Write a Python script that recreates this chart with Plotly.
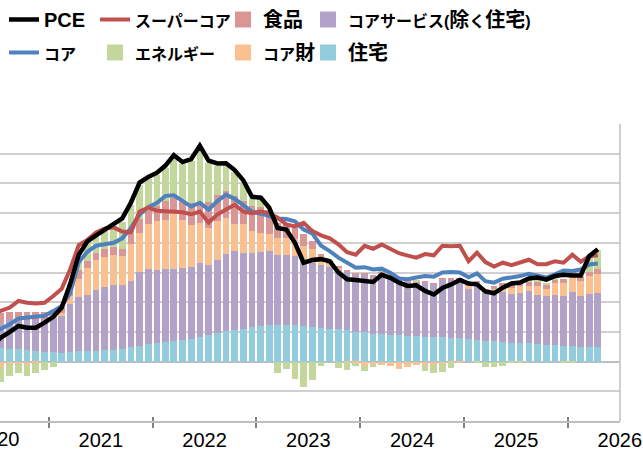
import plotly.graph_objects as go
import pandas as pd

# Monthly observations Jun-2020 .. Apr-2026 (71 months)
months = pd.date_range("2020-06-01", "2026-04-01", freq="MS").strftime("%Y-%m-%d").tolist()

# Contributions to PCE inflation (%pt)
housing = [0.46, 0.45, 0.41, 0.41, 0.39, 0.36, 0.34, 0.33, 0.30, 0.33,
           0.37, 0.36, 0.37, 0.38, 0.39, 0.44, 0.48, 0.54, 0.58, 0.63,
           0.67, 0.69, 0.72, 0.77, 0.82, 0.88, 0.96, 1.03, 1.07, 1.11,
           1.16, 1.20, 1.23, 1.24, 1.24, 1.23, 1.20, 1.17, 1.14, 1.11,
           1.09, 1.05, 1.01, 0.98, 0.93, 0.92, 0.90, 0.88, 0.86, 0.85,
           0.84, 0.83, 0.82, 0.80, 0.78, 0.76, 0.72, 0.70, 0.68, 0.65,
           0.64, 0.62, 0.61, 0.58, 0.55, 0.55, 0.54, 0.51, 0.50, 0.48,
           0.50]
core_services = [0.84, 0.86, 1.01, 1.02, 1.01, 1.04, 1.11, 1.14, 1.25, 1.62,
                 1.82, 1.88, 2.04, 2.14, 2.19, 2.13, 2.23, 2.48, 2.53, 2.45,
                 2.46, 2.42, 2.44, 2.43, 2.49, 2.36, 2.46, 2.58, 2.65, 2.56,
                 2.48, 2.49, 2.49, 2.35, 2.35, 2.32, 2.19, 2.16, 2.10, 2.09,
                 2.02, 1.97, 1.89, 1.95, 1.95, 2.08, 1.98, 1.86, 1.84, 1.81,
                 1.82, 1.74, 1.93, 1.97, 1.96, 1.69, 1.88, 1.64, 1.74, 1.69,
                 1.64, 1.69, 1.76, 1.66, 1.65, 1.69, 1.68, 1.83, 1.71, 1.78,
                 1.81]
core_goods = [-0.20, -0.17, -0.09, -0.07, -0.10, -0.05, 0.00, 0.05, 0.10, 0.25,
              0.60, 0.90, 1.00, 1.00, 1.00, 0.98, 1.24, 1.32, 1.51, 1.67,
              1.65, 1.90, 1.60, 1.39, 1.36, 1.27, 1.33, 1.23, 0.90, 0.95,
              0.75, 0.65, 0.56, 0.58, 0.58, 0.59, 0.50, 0.45, 0.26, 0.10,
              0.04, -0.02, -0.05, -0.15, -0.08, -0.11, -0.15, -0.24, -0.19, -0.11,
              -0.11, -0.11, -0.09, -0.03, -0.06, 0.10, 0.05, 0.02, 0.04, 0.20,
              0.20, 0.22, 0.17, 0.30, 0.26, 0.42, 0.41, 0.52, 0.50, 0.62,
              0.63]
food = [0.30, 0.32, 0.26, 0.25, 0.26, 0.26, 0.22, 0.22, 0.20, 0.22,
        0.30, 0.26, 0.23, 0.28, 0.28, 0.25, 0.33, 0.45, 0.45, 0.49,
        0.62, 0.51, 0.60, 0.75, 0.70, 0.85, 0.85, 0.90, 0.95, 0.80,
        0.85, 0.85, 0.62, 0.51, 0.45, 0.48, 0.39, 0.28, 0.11, 0.10,
        0.08, 0.06, 0.07, 0.05, 0.05, 0.04, 0.04, 0.06, 0.06, 0.05,
        0.06, 0.07, 0.07, 0.06, 0.06, 0.10, 0.08, 0.09, 0.09, 0.09,
        0.11, 0.12, 0.17, 0.17, 0.14, 0.11, 0.16, 0.16, 0.15, 0.14,
        0.17]
energy = [-0.70, -0.50, -0.39, -0.33, -0.38, -0.35, -0.28, -0.17, 0.02, 0.20,
          0.45, 0.60, 0.55, 0.60, 0.70, 0.90, 0.98, 1.15, 1.08, 1.05,
          1.12, 1.35, 1.28, 1.40, 1.82, 1.33, 1.00, 0.86, 0.80, 0.60,
          0.25, 0.28, 0.20, -0.37, -0.24, -0.57, -0.87, -0.62, -0.15, 0.02,
          -0.20, -0.26, -0.09, -0.16, -0.11, 0.02, 0.03, 0.04, 0.00, 0.02,
          -0.22, -0.28, -0.25, -0.19, 0.00, 0.00, -0.05, -0.17, -0.19, -0.15,
          -0.02, -0.06, 0.03, 0.02, 0.06, 0.02, -0.02, -0.03, 0.01, 0.50,
          0.65]

# Year-over-year inflation (%)
pce = [0.55, 0.81, 1.00, 1.20, 1.14, 1.14, 1.31, 1.51, 1.82, 2.60,
       3.60, 4.05, 4.25, 4.45, 4.62, 4.82, 5.35, 6.03, 6.22, 6.36,
       6.60, 6.95, 6.72, 6.82, 7.27, 6.77, 6.67, 6.68, 6.45, 6.10,
       5.55, 5.52, 5.18, 4.50, 4.45, 4.00, 3.33, 3.42, 3.45, 3.38,
       3.00, 2.77, 2.75, 2.71, 2.68, 2.92, 2.82, 2.66, 2.55, 2.57,
       2.38, 2.26, 2.48, 2.60, 2.75, 2.63, 2.60, 2.36, 2.30, 2.49,
       2.63, 2.66, 2.80, 2.83, 2.76, 2.88, 2.92, 2.90, 2.90, 3.55,
       3.78]
core = [0.95, 1.09, 1.26, 1.45, 1.48, 1.48, 1.54, 1.70, 1.87, 2.30,
        3.35, 3.70, 3.90, 3.95, 4.00, 4.15, 4.50, 4.95, 5.20, 5.35,
        5.58, 5.60, 5.40, 5.22, 5.35, 5.12, 5.40, 5.62, 5.48, 5.25,
        5.05, 4.98, 4.90, 4.82, 4.80, 4.72, 4.45, 4.32, 3.90, 3.72,
        3.50, 3.31, 3.16, 3.18, 3.10, 3.13, 2.99, 2.80, 2.77, 2.83,
        2.88, 2.86, 3.00, 3.02, 3.00, 2.84, 2.97, 2.71, 2.66, 2.79,
        2.83, 2.88, 2.96, 2.88, 2.83, 2.94, 3.07, 3.05, 3.10, 3.27,
        3.30]
supercore = [1.60, 1.70, 1.82, 2.04, 1.98, 1.96, 1.98, 2.21, 2.45, 3.10,
             3.92, 4.10, 4.35, 4.48, 4.52, 4.38, 4.35, 5.05, 5.18, 5.08,
             5.07, 5.05, 5.03, 4.96, 5.05, 4.68, 4.95, 5.12, 5.28, 5.05,
             5.00, 5.05, 5.00, 4.85, 4.62, 4.55, 4.67, 4.40, 4.25, 4.15,
             3.95, 3.68, 3.60, 3.90, 3.80, 3.94, 3.78, 3.65, 3.57, 3.50,
             3.62, 3.58, 3.90, 3.88, 3.90, 3.38, 3.67, 3.35, 3.20, 3.33,
             3.25, 3.35, 3.43, 3.28, 3.28, 3.38, 3.33, 3.60, 3.36, 3.55,
             3.58]

year_labels = ["2020", "2021", "2022", "2023", "2024", "2025", "2026"]

x_range = ["2020-07-13", "2026-07-03"]
BAR_W = 23.5 * 86400000  # ms

font_family = "Liberation Sans, Arial, Noto Sans CJK JP, sans-serif"
leg_font = dict(family=font_family, size=20, color="black", weight="bold")


def kana(s):
    # kana glyphs are set a little narrower, as in the proportional original font
    return "<span style='font-size:16px'>" + s + "</span>"


name_pce = "PCE"
name_core = kana("コア")
name_super = kana("スーパーコア")
name_energy = kana("エネルギー")
name_food = "食品"
name_goods = kana("コア") + "財"
name_serv = kana("コアサービス(") + "除" + kana("く") + "住宅" + kana(")")
name_house = "住宅"

fig = go.Figure()

bar_specs = [
    (name_house, housing, "#93CDDD", "legend4", 2),
    (name_serv, core_services, "#B3A2C7", "legend4", 1),
    (name_goods, core_goods, "#FAC090", "legend3", 2),
    (name_food, food, "#D99694", "legend3", 1),
    (name_energy, energy, "#C3D69B", "legend2", 2),
]
for i, (name, vals, col, leg, rank) in enumerate(bar_specs):
    fig.add_trace(go.Bar(
        x=months, y=vals, name=name, marker=dict(color=col, line=dict(width=0)),
        width=BAR_W, xperiod="M1", xperiodalignment="middle",
        showlegend=False, legendgroup="b%d" % i,
    ))

line_specs = [
    (name_core, core, "#4F81BD", 4, "legend", 2),
    (name_super, supercore, "#C0504D", 4, "legend2", 1),
    (name_pce, pce, "#000000", 4.5, "legend", 1),
]
for i, (name, vals, col, w, leg, rank) in enumerate(line_specs):
    fig.add_trace(go.Scatter(
        x=months, y=vals, name=name, mode="lines",
        line=dict(color=col, width=w),
        xperiod="M1", xperiodalignment="middle",
        legend=leg, legendrank=rank, legendgroup="l%d" % i,
    ))

# legend keys for the stacked bars (larger square swatches, as in the original)
for i, (name, vals, col, leg, rank) in enumerate(bar_specs):
    fig.add_trace(go.Scatter(
        x=[None], y=[None], name=name, mode="markers",
        marker=dict(symbol="square", size=16, color=col),
        legend=leg, legendrank=rank, legendgroup="b%d" % i, hoverinfo="skip",
    ))

# helper axis to draw the inner half of the cross tick marks
fig.add_trace(go.Scatter(x=[], y=[], xaxis="x2", showlegend=False, hoverinfo="skip"))

W, H = 643, 450
ml, mr, mt, mb = 0, 23, 124, 29

legend_common = dict(orientation="v", xanchor="left", yanchor="top",
                     xref="container", yref="container",
                     font=leg_font, bgcolor="rgba(0,0,0,0)", tracegroupgap=4,
                     itemwidth=30, itemclick=False, borderwidth=0,
                     itemsizing="trace")


def cx(px):
    return px / W


def cy(py):
    return 1 - py / H


r0 = pd.Timestamp(x_range[0])
r1 = pd.Timestamp(x_range[1])
mid2020 = pd.Timestamp(year_labels[0] + "-07-02 12:00")
x2020 = (mid2020 - r0) / (r1 - r0)

fig.update_layout(
    width=W, height=H,
    margin=dict(l=ml, r=mr, t=mt, b=mb, pad=0, autoexpand=False),
    plot_bgcolor="white", paper_bgcolor="white",
    barmode="relative", bargap=0,
    font=dict(family=font_family, color="black"),
    showlegend=True,
    legend=dict(x=cx(4), y=cy(-2.5), **legend_common),
    legend2=dict(x=cx(95), y=cy(-2.5), **legend_common),
    legend3=dict(x=cx(223), y=cy(-2.5), **legend_common),
    legend4=dict(x=cx(308), y=cy(-2.5), **legend_common),
    xaxis=dict(
        type="date", range=x_range, tick0="2020-01-01", dtick="M12",
        tickformat="%Y", ticklabelmode="period", automargin=False,
        ticks="outside", ticklen=5, tickwidth=2, tickcolor="#808080",
        ticklabelstandoff=-5,
        showline=True, linecolor="#bfbfbf", linewidth=1.5,
        showgrid=False, zeroline=False,
        tickfont=dict(family=font_family, size=20, color="black"),
    ),
    xaxis2=dict(
        type="date", range=x_range, tick0="2020-01-01", dtick="M12",
        overlaying="x", anchor="y", side="bottom", automargin=False,
        ticks="inside", ticklen=4, tickwidth=2, tickcolor="#808080",
        showticklabels=False, showgrid=False, zeroline=False, showline=False,
    ),
    yaxis=dict(
        range=[-2, 8], tick0=0, dtick=1, showticklabels=False, ticks="",
        showgrid=True, gridcolor="#d0d0d0", gridwidth=1.5, automargin=False,
        zeroline=True, zerolinecolor="#bfbfbf", zerolinewidth=1.5,
        showline=False,
    ),
    shapes=[dict(type="line", xref="paper", yref="paper", x0=1, x1=1, y0=0, y1=1,
                 line=dict(color="#bfbfbf", width=1.5))],
    annotations=[dict(text=year_labels[0], xref="paper", yref="paper",
                      x=x2020, y=0, xanchor="center", yanchor="top", yshift=-5,
                      showarrow=False,
                      font=dict(family=font_family, size=20, color="black"))],
)

# remove the browser's default page margin so the figure fills the window
fig.write_html("out.html", config={"displayModeBar": False},
               post_script="document.body.style.margin='0';document.body.style.overflow='hidden';")
